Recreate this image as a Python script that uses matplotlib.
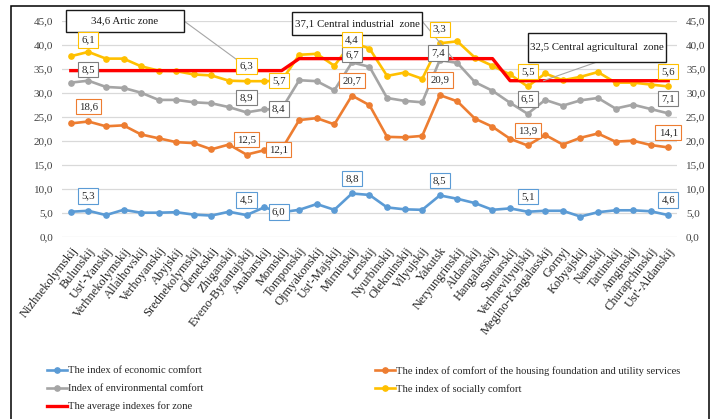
import numpy as np
import matplotlib
matplotlib.use("Agg")
import matplotlib.pyplot as plt
from matplotlib.patches import Rectangle
from matplotlib.ticker import FuncFormatter, MultipleLocator

# ---------------- data ----------------
districts = [
    "Nizhnekolymskij", "Bulunskij", "Ust'-Yanskij", "Verhnekolymskij", "Allaihovskij",
    "Verhoyanskij", "Abyjskij", "Srednekolymskij", "Olenekskij", "Zhiganskij",
    "Eveno-Bytantajskij", "Anabarskij", "Momskij", "Tomponskij", "Ojmyakonskij",
    "Ust'-Majskij", "Mirninskij", "Lenskij", "Nyurbinskij", "Olekminskij",
    "Vilyujskij", "Yakutsk", "Neryungrinskij", "Aldanskij", "Hangalasskij",
    "Suntarskij", "Verhnevilyujskij", "Megino-Kangalasskij", "Gornyj", "Kobyajskij",
    "Namskij", "Tattinskij", "Amginskij", "Churapchinskij", "Ust'-Aldanskij",
]
economic = [5.2, 5.4, 4.5, 5.6, 5.0, 5.0, 5.1, 4.6, 4.4, 5.2, 4.5, 6.1, 5.1, 5.6, 6.8,
            5.6, 9.0, 8.7, 6.1, 5.7, 5.6, 8.6, 7.9, 7.0, 5.6, 5.9, 5.2, 5.4, 5.4, 4.2,
            5.1, 5.5, 5.5, 5.3, 4.5]
housing = [23.6, 24.0, 23.0, 23.2, 21.3, 20.5, 19.7, 19.5, 18.2, 19.2, 17.1, 18.0, 18.2,
           24.3, 24.7, 23.4, 29.4, 27.4, 20.8, 20.7, 21.0, 29.5, 28.2, 24.6, 22.9, 20.4,
           19.0, 21.2, 19.2, 20.6, 21.5, 19.8, 20.0, 19.1, 18.6]
environmental = [32.1, 32.5, 31.2, 31.0, 30.0, 28.5, 28.5, 28.0, 27.8, 27.0, 25.9, 26.5,
                 26.6, 32.6, 32.4, 30.5, 36.3, 35.4, 28.9, 28.3, 28.0, 36.8, 36.2, 32.2,
                 30.4, 27.9, 25.6, 28.5, 27.3, 28.4, 28.9, 26.7, 27.5, 26.6, 25.7]
social = [37.6, 38.5, 37.1, 37.1, 35.5, 34.6, 34.5, 33.8, 33.6, 32.5, 32.4, 32.4, 32.5,
          37.9, 38.1, 35.6, 40.5, 39.2, 33.5, 34.2, 32.9, 40.3, 40.7, 37.3, 35.6, 33.8,
          31.3, 34.0, 32.6, 33.3, 34.3, 32.1, 32.1, 31.7, 31.3]
zone_titles = ["34,6 Artic zone", "37,1 Central industrial  zone",
               "32,5 Central agricultural  zone"]
zone_avg = [34.6, 37.1, 32.5]
zone_count = [13, 12, 10]

label_idx = [1, 10, 12, 16, 21, 26, 34]
economic_labels = ["5,3", "4,5", "6,0", "8,8", "8,5", "5,1", "4,6"]
housing_labels = ["18,6", "12,5", "12,1", "20,7", "20,9", "13,9", "14,1"]
environmental_labels = ["8,5", "8,9", "8,4", "6,7", "7,4", "6,5", "7,1"]
social_labels = ["6,1", "6,3", "5,7", "4,4", "3,3", "5,5", "5,6"]

series_names = ["The index of economic comfort",
                "The index of comfort of the housing foundation and utility services",
                "Index of environmental comfort",
                "The index of socially comfort",
                "The average indexes for zone"]

# ---------------- style ----------------
plt.rcParams['font.family'] = ['Liberation Serif', 'DejaVu Serif']
W, H = 716, 419
C_BLUE, C_ORANGE, C_GRAY, C_YELLOW, C_RED = "#5B9BD5", "#ED7D31", "#A5A5A5", "#FFC000", "#FF0000"


def fx(px):
    return px / W


def fy(py):
    return 1 - py / H


fig = plt.figure(figsize=(W / 100, H / 100), dpi=100)
fig.patch.set_facecolor("white")

ax = fig.add_axes([fx(62), fy(236.7), (677 - 62) / W, (236.7 - 20.7) / H])
x = np.arange(len(districts))

lw, ms = 1.9, 3.8
h_econ, = ax.plot(x, economic, color=C_BLUE, lw=lw, marker='o', ms=ms, zorder=3)
h_house, = ax.plot(x, housing, color=C_ORANGE, lw=lw, marker='o', ms=ms, zorder=3)
h_env, = ax.plot(x, environmental, color=C_GRAY, lw=lw, marker='o', ms=ms, zorder=3)
h_soc, = ax.plot(x, social, color=C_YELLOW, lw=lw, marker='o', ms=ms, zorder=3)
avg = np.repeat(zone_avg, zone_count)
h_avg, = ax.plot(x, avg, color=C_RED, lw=2.4, zorder=4)

ax.set_xlim(-0.5, len(districts) - 0.5)
ax.set_ylim(0, 45)
ax.yaxis.set_major_locator(MultipleLocator(5))
ax.yaxis.set_major_formatter(FuncFormatter(lambda v, p: f"{v:.1f}".replace(".", ",")))
ax.grid(axis='y', color="#d9d9d9", lw=0.9)
ax.set_axisbelow(True)
for s in ax.spines.values():
    s.set_visible(False)
ax.tick_params(axis='y', length=0, labelsize=8, labelcolor="#404040", pad=6.5,
               labelleft=True, labelright=True)
ax.set_xticks(x)
ax.set_xticklabels(districts, rotation=52, ha='right', va='top',
                   rotation_mode='anchor', fontsize=9, color="#262626")
ax.tick_params(axis='x', length=0, pad=6)

# ---------------- zone call-outs ----------------
zone_boxes = [(66, 10, 184, 32), (292, 12, 422, 35), (528, 33, 666, 62)]
zone_line_start = [(184, 21), (422, 21), (597, 62)]
zone_line_target = [10.3, 21.75, 26.9]
for (x0, y0, x1, y1), title, (sx, sy), tx, val in zip(zone_boxes, zone_titles,
                                                     zone_line_start, zone_line_target,
                                                     zone_avg):
    ax.annotate("", xy=(tx, val), xycoords='data',
                xytext=(sx, H - sy), textcoords='figure pixels',
                arrowprops=dict(arrowstyle='-', color="#a6a6a6", lw=0.8,
                                shrinkA=0, shrinkB=0), zorder=5, annotation_clip=False)
    ax.add_artist(Rectangle((fx(x0), fy(y1)), (x1 - x0) / W, (y1 - y0) / H,
                            transform=fig.transFigure, fc='white', ec='#1a1a1a',
                            lw=1.0, zorder=7, clip_on=False))
    ax.text(fx((x0 + x1) / 2), fy((y0 + y1) / 2), title, ha='center', va='center',
            fontsize=7.8, color="#1a1a1a", zorder=7.5, transform=fig.transFigure,
            clip_on=False)

# ---------------- data labels ----------------
label_sets = [
    (economic, economic_labels, C_BLUE, {}),
    (housing, housing_labels, C_ORANGE, {}),
    (environmental, environmental_labels, "#7F7F7F", {0: (0, 11), 3: (0, 8), 4: (-2, 7)}),
    (social, social_labels, C_YELLOW, {0: (0, 12), 3: (0, 3), 4: (0, 14)}),
]
for vals, texts, col, over in label_sets:
    for k, (i, t) in enumerate(zip(label_idx, texts)):
        if k == 2:
            dx, dy = -3, 0
        else:
            dx, dy = over.get(k, (0, 15))
        ax.annotate(t, xy=(i, vals[i]), xytext=(dx, dy), textcoords='offset pixels',
                    ha='center', va='center', fontsize=7.8, color="#262626",
                    bbox=dict(boxstyle='square,pad=0.3', fc='white', ec=col, lw=0.8),
                    zorder=8, annotation_clip=False)

# ---------------- legend ----------------
leg_kw = dict(loc='upper left', frameon=False, fontsize=7.6, handlelength=1.9,
              handletextpad=0.1, labelspacing=0.8, borderpad=0, borderaxespad=0,
              labelcolor="#262626")
leg1 = fig.legend([h_econ, h_env, h_avg], [series_names[0], series_names[2], series_names[4]],
                  bbox_to_anchor=(fx(47), fy(366)), **leg_kw)
leg2 = fig.legend([h_house, h_soc], [series_names[1], series_names[3]],
                  bbox_to_anchor=(fx(375), fy(366)), **leg_kw)

# ---------------- outer frame ----------------
fig.add_artist(Rectangle((fx(11), -0.05), (709 - 11) / W, fy(6) + 0.05,
                         transform=fig.transFigure, fill=False, ec='black', lw=1.1,
                         zorder=20))

fig.savefig("out.png", dpi=100)
